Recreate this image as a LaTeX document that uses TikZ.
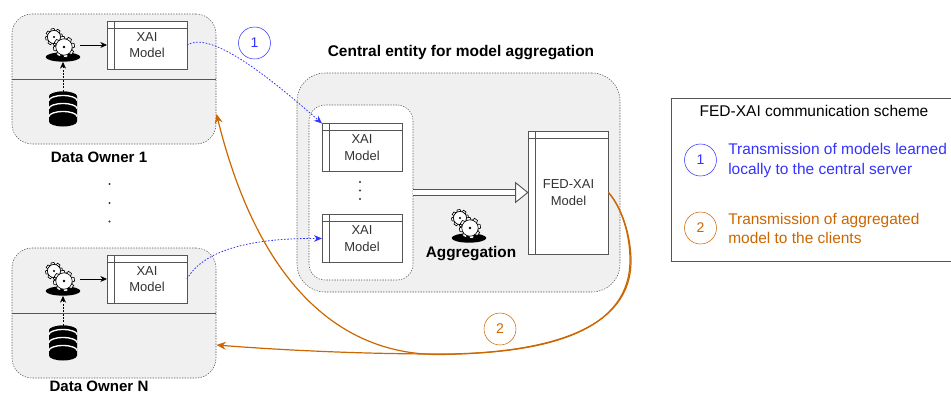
\documentclass[tikz,border=0pt]{standalone}
\usepackage{fontspec}
\setmainfont{Liberation Sans}
\usepackage{tikz}
\usepackage{xcolor}
\usetikzlibrary{arrows.meta}
\usetikzlibrary{shapes.geometric}

\definecolor{panelgray}{HTML}{F0F0F0}
\definecolor{linegray}{HTML}{555555}
\definecolor{textgray}{HTML}{333333}
\definecolor{sendblue}{HTML}{3333FF}
\definecolor{backorange}{HTML}{CC6600}

\tikzset{
  dotbox/.style={draw=linegray, dash pattern=on 1pt off 1pt, inner sep=0, outer sep=0},
  ownerbox/.style={dotbox, fill=panelgray, rounded corners=15pt, minimum width=153pt, minimum height=97.5pt},
  tablebox/.style={draw=linegray, fill=white, line width=.75pt, inner sep=0, outer sep=0, minimum width=60pt,
    minimum height=36pt, align=center, text=textgray, font=\fontsize{9.75}{12}\selectfont,
    path picture={
      \draw[linegray, line width=.75pt] ([yshift=-5.25pt]path picture bounding box.north west) -- ([yshift=-5.25pt]path picture bounding box.north east);
      \draw[linegray, line width=.75pt] ([xshift=5.25pt]path picture bounding box.north west) -- ([xshift=5.25pt]path picture bounding box.south west);
    }},
  boldlabel/.style={font=\fontsize{11.3}{13}\selectfont\bfseries, inner sep=0},
  diskicon/.style={ellipse, fill=black, inner sep=0, minimum width=26pt, minimum height=7pt},
  storeicon/.style={inner sep=0, minimum width=21pt, minimum height=25pt},
  dotmark/.style={circle, fill=textgray, inner sep=0, minimum size=1.6pt},
  flowline/.style={-{Stealth[length=5pt,width=4.5pt]}, black, line width=.5pt},
  dataline/.style={flowline, dash pattern=on 1.5pt off 1pt},
  sendline/.style={-{Stealth[length=6pt,width=5pt]}, sendblue, line width=.6pt, dash pattern=on 1.2pt off 1.2pt},
  backline/.style={-{Stealth[length=7pt,width=6pt]}, backorange, line width=.9pt},
  blockline/.style={-{Triangle[open, fill=white, length=10pt, width=16pt]}, draw=linegray, line width=.7pt, double=white, double distance=4pt},
  stepmark/.style={circle, draw, inner sep=0, minimum size=24pt, font=\fontsize{10.5}{12}\selectfont},
  legendtext/.style={anchor=west, align=left, inner sep=0, font=\fontsize{11.6}{14.5}\selectfont},
  gearwheel/.pic={
    \foreach \a in {0,45,...,315}
      \draw[black, fill=white, line width=.5pt, rotate=\a+10] (-.26,.76) -- (-.18,1.05) -- (.18,1.05) -- (.26,.76) -- cycle;
    \draw[black, fill=white, line width=.5pt] (0,0) circle (.82);
    \fill[black] (0,0) circle (.14);
  },
  gearicon/.pic={
    \pic[scale=8] at (-9,-20) {gearwheel};
    \pic[scale=10] at (1,-10) {gearwheel};
  },
  storestack/.pic={
    \fill[black] (-14,-12) arc (180:360:14 and 5) -- (14,13) arc (0:180:14 and 5) -- cycle;
    \fill[black] (0,-12) ellipse (14 and 5);
    \foreach \h in {-4,4,12}
      \draw[white, line width=1pt] (-14,\h-4) arc (180:0:14 and -5);
  },
  dataowner/.pic={
    \node[ownerbox] (box) at (114,79) {};
    \coordinate (divL) at (12,79);
    \coordinate (divR) at (216,79);
    \draw[linegray, line width=.7pt] (divL) -- (divR);
    \node[diskicon] (disk) at (63,57) {};
    \pic at (disk) {gearicon};
    \node[tablebox] (model) at (147,45) {XAI\\[.5pt]Model};
    \node[storeicon] (store) at (63,108.5) {};
    \pic at (store) {storestack};
    \coordinate (gearout) at (80,45);
    \draw[flowline] (gearout) -- (model.west);
    \draw[dataline] (store.north) -- (disk.south);
  },
}

\begin{document}
\begin{tikzpicture}[x=.75pt, y=-.75pt]
  \useasboundingbox (0,0) rectangle (951,394);

  % data owners
  \pic (ownerA) at (0,0) {dataowner};
  \pic (ownerN) at (0,234) {dataowner};
  \node[boldlabel] (ownerAname) at (99,157) {Data Owner 1};
  \node[boldlabel] (ownerNname) at (99,386.5) {Data Owner N};
  \node[dotmark] (dotA) at (109.5,184) {};
  \node[dotmark] (dotB) at (109.5,203) {};
  \node[dotmark] (dotC) at (109.5,221.5) {};

  % central entity
  \node[boldlabel, font=\fontsize{11.6}{13}\selectfont\bfseries] (centralname) at (461,53) {Central entity for model aggregation};
  \node[dotbox, fill=panelgray, rounded corners=21pt, minimum width=242.25pt, minimum height=164.25pt] (central) at (458.5,182.5) {};
  \node[dotbox, fill=white, rounded corners=12pt, minimum width=78pt, minimum height=131.25pt] (inner) at (361,192.5) {};
  \node[tablebox] (xaiTop) at (362,147.5) {XAI\\[.5pt]Model};
  \node[tablebox] (xaiBottom) at (362,238.5) {XAI\\[.5pt]Model};
  \node[dotmark] (dotD) at (360,182) {};
  \node[dotmark] (dotE) at (360,190.5) {};
  \node[dotmark] (dotF) at (360,199) {};
  \node[tablebox, minimum height=92.25pt] (fed) at (568.5,192.5) {FED-XAI\\[.5pt]Model};
  \draw[blockline] (inner.east) -- (fed.west);
  \node[diskicon] (aggdisk) at (469,238) {};
  \pic at (aggdisk) {gearicon};
  \node[boldlabel, font=\fontsize{11.5}{13}\selectfont\bfseries] (aggname) at (471,254) {Aggregation};

  % transmission of the local models
  \node[stepmark, draw=sendblue, text=sendblue] (stepA) at (254.5,43) {1};
  \draw[sendline] (ownerAmodel.east) .. controls (207,33) and (250,60) .. (xaiTop.north west);
  \draw[sendline] (ownerNmodel.east) .. controls (205,247) and (260,238) .. (xaiBottom.west);

  % transmission of the aggregated model
  \node[stepmark, draw=backorange, text=backorange] (stepB) at (500,329) {2};
  \coordinate (ownerAin) at (216.5,114);
  \coordinate (ownerNin) at (216.5,345);
  \draw[backline] (fed.east) .. controls (622,208) and (630,235) .. (630,260)
    .. controls (630,330) and (550,354) .. (440,354)
    .. controls (360,354) and (280,350) .. (ownerNin);
  \draw[backline] (fed.east) .. controls (622,208) and (631,236) .. (631,261)
    .. controls (631,328) and (552,353) .. (440,354.5)
    .. controls (330,355) and (255,270) .. (ownerAin);

  % legend
  \node[draw=linegray, line width=.75pt, inner sep=0, outer sep=0, minimum width=211.5pt, minimum height=122.25pt] (legend) at (812,179.5) {};
  \node[font=\fontsize{11.65}{13}\selectfont, inner sep=0] (legendname) at (814,111) {FED-XAI communication scheme};
  \node[stepmark, draw=sendblue, text=sendblue] (legendA) at (700.5,160) {1};
  \node[legendtext, text=sendblue] (legendAtext) at (728,160.5) {Transmission of models learned\\locally to the central server};
  \node[stepmark, draw=backorange, text=backorange] (legendB) at (700.5,228) {2};
  \node[legendtext, text=backorange] (legendBtext) at (728,228.5) {Transmission of aggregated\\model to the clients};
\end{tikzpicture}
\end{document}
